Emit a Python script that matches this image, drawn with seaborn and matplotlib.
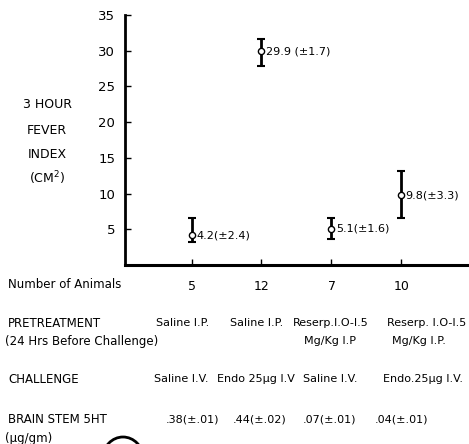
import pandas as pd
import matplotlib
matplotlib.use("Agg")
import matplotlib.pyplot as plt
import matplotlib.patches as mpatches
import seaborn as sns

# Data
groups = [1, 2, 3, 4]
fever_index = [4.2, 29.9, 5.1, 9.8]
err_low = [1.0, 2.0, 1.5, 3.2]
err_high = [2.4, 1.8, 1.5, 3.3]
point_labels = ["4.2(±2.4)", "29.9 (±1.7)", "5.1(±1.6)", "9.8(±3.3)"]
y_ticks = [5, 10, 15, 20, 25, 30, 35]

n_animals = ["5", "12", "7", "10"]
pretreatment = ["Saline I.P.", "Saline I.P.", "Reserp.I.O-I.5", "Reserp. I.O-I.5"]
pretreatment_2 = ["", "", "Mg/Kg I.P", "Mg/Kg I.P."]
challenge = ["Saline I.V.", "Endo 25μg I.V", "Saline I.V.", "Endo.25μg I.V."]
brain_5ht = [".38(±.01)", ".44(±.02)", ".07(±.01)", ".04(±.01)"]

df = pd.DataFrame({"group": groups, "fever": fever_index})

W, H = 469, 444
sns.set_style("ticks", {"axes.edgecolor": "black", "text.color": "black",
                        "xtick.color": "black", "ytick.color": "black"})
plt.rcParams["font.family"] = ["DejaVu Sans"]

fig = plt.figure(figsize=(W / 100, H / 100), dpi=100)
ax = fig.add_axes([125 / W, 1 - 265 / H, (W - 125) / W, 250 / H])

ax.errorbar(df["group"], df["fever"], yerr=[err_low, err_high], fmt="none",
            ecolor="black", elinewidth=2, capsize=3, capthick=1.5, zorder=2)
sns.scatterplot(data=df, x="group", y="fever", ax=ax, marker="o", s=20,
                facecolor="white", edgecolor="black", linewidth=1, zorder=3)

for g, v, lab in zip(groups, fever_index, point_labels):
    ax.annotate(lab, (g, v), xytext=(3.5, 0), textcoords="offset points",
                va="center", ha="left", fontsize=8)

ax.set_xlim(0.04, 4.98)
ax.set_ylim(0, 35)
ax.set_yticks(y_ticks)
ax.set_xticks(groups)
ax.set_xticklabels([])
ax.set_xlabel("")
ax.set_ylabel("")
ax.tick_params(axis="both", direction="in", length=4, width=1, labelsize=9.5)
ax.tick_params(axis="y", pad=7)
sns.despine(ax=ax)
ax.spines["left"].set_linewidth(2)
ax.spines["bottom"].set_linewidth(2.2)

# y-axis title, stacked
for txt, yy in [("3 HOUR", 105), ("FEVER", 130), ("INDEX", 154), ("(CM$^2$)", 178)]:
    fig.text(47 / W, 1 - yy / H, txt, ha="center", va="center", fontsize=9)

# table under the chart
col_x = [192, 262, 332, 402]


def row(label, values, y, xs=col_x, lx=8):
    if label:
        fig.text(lx / W, 1 - y / H, label, ha="left", va="center", fontsize=8.5)
    for x, v in zip(xs, values):
        if v:
            fig.text(x / W, 1 - y / H, v, ha="center", va="center", fontsize=8)


row("Number of Animals", [], 285)
for x, v in zip(col_x, n_animals):
    fig.text(x / W, 1 - 286 / H, v, ha="center", va="center", fontsize=9)
row("PRETREATMENT", pretreatment, 323, xs=[183, 257, 331, 427])
row("(24 Hrs Before Challenge)", pretreatment_2, 341, xs=[183, 257, 330, 419], lx=5)
row("CHALLENGE", challenge, 379, xs=[181, 256, 330, 423])
row("BRAIN STEM 5HT", brain_5ht, 419, xs=[192, 260, 329, 402])
row("(μg/gm)", [], 438, lx=5)

# circled mark cut off at the bottom of the page
fig.add_artist(mpatches.Ellipse((123 / W, 1 - 458 / H), 40 / W, 42 / H,
                                fill=False, edgecolor="black", linewidth=2,
                                transform=fig.transFigure, clip_on=False))

fig.savefig("out.png", dpi=100)
